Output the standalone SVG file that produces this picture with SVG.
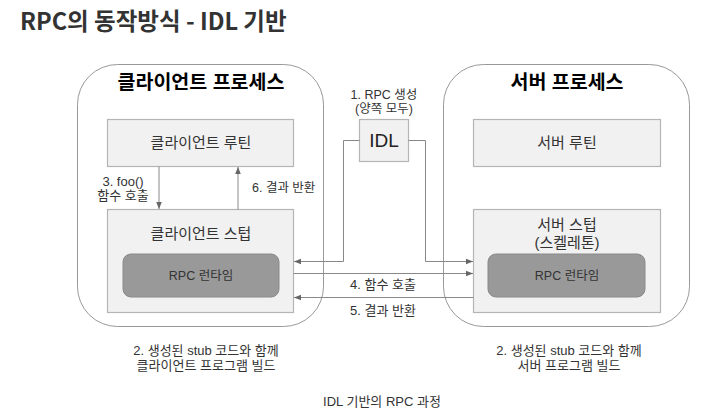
<svg xmlns="http://www.w3.org/2000/svg" width="719" height="414" viewBox="0 0 719 414">
<style>
text{font-family:"Liberation Sans","Noto Sans CJK KR",sans-serif;fill:#222;}
.title{font-family:"Noto Sans CJK KR","Liberation Sans",sans-serif;font-size:23.5px;font-weight:bold;fill:#333;}
.proc{fill:#fff;stroke:#999;stroke-width:1;}
.ptitle{font-size:19.5px;font-weight:bold;text-anchor:middle;fill:#000;}
.box{fill:#f1f1f1;stroke:#b5b5b5;stroke-width:1.2;}
.rt{fill:#999;stroke:#8a8a8a;stroke-width:1;}
.bl{font-size:15px;text-anchor:middle;fill:#333;}
.sl{font-size:12.5px;text-anchor:middle;fill:#333;}
.ml{font-size:13px;text-anchor:middle;fill:#333;}
.ll{font-size:12.5px;fill:#333;}
.conn{fill:none;stroke:#888;stroke-width:1;}
.cap{font-size:13px;text-anchor:middle;fill:#333;}
</style>
<defs>
<marker id="ah" viewBox="0 0 10 10" refX="10" refY="5" markerWidth="7" markerHeight="7" orient="auto" markerUnits="userSpaceOnUse">
<path d="M0,1 L10,5 L0,9 z" fill="#666"/>
</marker>
</defs>
<rect width="719" height="414" fill="#fff"/>
<text class="title" x="20" y="30">RPC의 동작방식 - IDL 기반</text>

<g id="client-process">
<rect class="proc" x="77.5" y="64.5" width="246" height="262" rx="40" ry="40"/>
<text class="ptitle" x="201" y="89">클라이언트 프로세스</text>
</g>
<g id="server-process">
<rect class="proc" x="443.5" y="64.5" width="246" height="262" rx="40" ry="40"/>
<text class="ptitle" x="567" y="89">서버 프로세스</text>
</g>

<g id="client-routine">
<rect class="box" x="107.5" y="119.5" width="186" height="47"/>
<text class="bl" x="201" y="148">클라이언트 루틴</text>
</g>
<g id="client-stub">
<rect class="box" x="107.5" y="209.5" width="186" height="103"/>
<text class="bl" x="201" y="239">클라이언트 스텁</text>
</g>
<g id="client-runtime">
<rect class="rt" x="123" y="254" width="156" height="43" rx="8" ry="8"/>
<text class="sl" x="201" y="280">RPC 런타임</text>
</g>

<g id="idl">
<rect class="box" x="359.5" y="119.5" width="49" height="42"/>
<text x="384" y="147" style="font-size:19px;text-anchor:middle;fill:#222">IDL</text>
<text class="sl" x="384" y="99">1. RPC 생성</text>
<text class="sl" x="384" y="113">(양쪽 모두)</text>
</g>

<g id="server-routine">
<rect class="box" x="473.5" y="119.5" width="187" height="47"/>
<text class="bl" x="567" y="148">서버 루틴</text>
</g>
<g id="server-stub">
<rect class="box" x="473.5" y="209.5" width="187" height="103"/>
<text class="bl" x="567" y="230">서버 스텁</text>
<text class="bl" x="567" y="248">(스켈레톤)</text>
</g>
<g id="server-runtime">
<rect class="rt" x="488" y="254" width="157" height="43" rx="8" ry="8"/>
<text class="sl" x="567" y="280">RPC 런타임</text>
</g>

<g id="connectors">
<path class="conn" d="M159,166.5 V209" marker-end="url(#ah)"/>
<path class="conn" d="M238,209.5 V167" marker-end="url(#ah)"/>
<path class="conn" d="M359.5,140.5 H343.5 V261.5 H294" marker-end="url(#ah)"/>
<path class="conn" d="M408.5,140.5 H425.5 V261.5 H473" marker-end="url(#ah)"/>
<path class="conn" d="M293.5,273.5 H473" marker-end="url(#ah)"/>
<path class="conn" d="M473.5,297.5 H294" marker-end="url(#ah)"/>
<text class="ml" x="123" y="186">3. foo()</text>
<text class="ml" x="123" y="200">함수 호출</text>
<text class="ll" x="252" y="192">6. 결과 반환</text>
<text class="ml" x="383" y="289">4. 함수 호출</text>
<text class="ml" x="383" y="315">5. 결과 반환</text>
</g>

<text class="ml" x="206" y="355">2. 생성된 stub 코드와 함께</text>
<text class="ml" x="206" y="370">클라이언트 프로그램 빌드</text>
<text class="ml" x="569" y="355">2. 생성된 stub 코드와 함께</text>
<text class="ml" x="569" y="370">서버 프로그램 빌드</text>
<text class="cap" x="382" y="406">IDL 기반의 RPC 과정</text>
</svg>
